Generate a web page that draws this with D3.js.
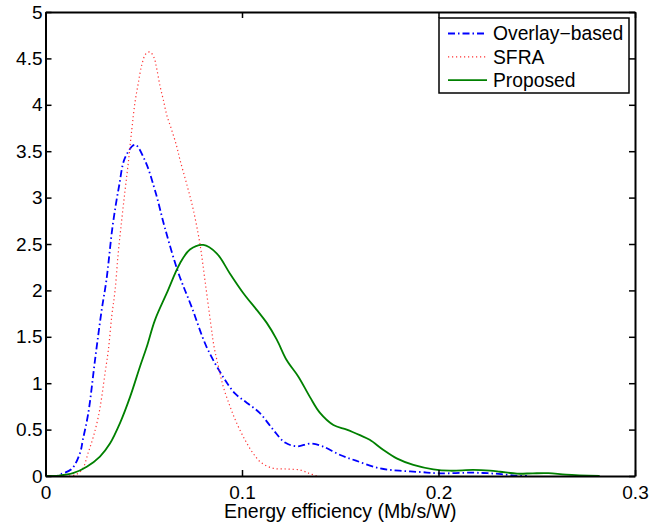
<!DOCTYPE html>
<html>
<head>
<meta charset="utf-8">
<title>Energy efficiency density</title>
<script src="https://d3js.org/d3.v7.min.js"></script>
<style>
  body { margin: 0; background: #fff; }
  svg text { font-family: "Liberation Sans", Arial, Helvetica, sans-serif; fill: #000; }
</style>
</head>
<body>
<div id="main"></div>
<script>
  // --- data ---
  var seriesNames = ["Overlay\u2212based", "SFRA", "Proposed"];

  var overlayX = [0.003, 0.006, 0.0077, 0.0133, 0.0176, 0.019, 0.0218, 0.0252, 0.0286, 0.031, 0.0342, 0.0374, 0.0405,
                  0.0455, 0.0506, 0.0557, 0.0608, 0.0676, 0.0744, 0.082, 0.0903, 0.0964, 0.1024, 0.109, 0.1158,
                  0.1219, 0.1278, 0.135, 0.141, 0.150, 0.158, 0.170, 0.180, 0.1906, 0.2008, 0.2176, 0.225, 0.232, 0.24, 0.245];
  var overlayY = [0, 0.002, 0.02, 0.075, 0.25, 0.39, 0.68, 1.25, 1.79, 2.11, 2.70, 3.12, 3.43,
                  3.57, 3.40, 3.08, 2.67, 2.19, 1.82, 1.39, 1.07, 0.89, 0.79, 0.68, 0.50,
                  0.36, 0.32, 0.35, 0.32, 0.226, 0.165, 0.083, 0.057, 0.043, 0.029, 0.036, 0.03, 0.02, 0.003, 0];

  var sfraX = [0.012, 0.016, 0.019, 0.0217, 0.0243, 0.0269, 0.0286, 0.0303, 0.032, 0.0337, 0.0354, 0.037, 0.0388,
               0.0405, 0.0421, 0.0439, 0.0455, 0.0472, 0.049, 0.0511, 0.0532, 0.0552, 0.0566, 0.0583, 0.06, 0.0617,
               0.0642, 0.0668, 0.0684, 0.0718, 0.0752, 0.0786, 0.0812, 0.0841, 0.0858, 0.088, 0.0905, 0.0939, 0.0973,
               0.1015, 0.1058, 0.11, 0.1159, 0.1227, 0.1295, 0.134, 0.138];
  var sfraY = [0, 0.02, 0.08, 0.25, 0.42, 0.64, 0.85, 1.11, 1.36, 1.72, 2.0, 2.40, 2.76,
               3.08, 3.37, 3.73, 4.02, 4.23, 4.43, 4.55, 4.57, 4.51, 4.39, 4.20, 4.05, 3.89,
               3.73, 3.55, 3.41, 3.15, 2.87, 2.50, 2.10, 1.64, 1.39, 1.18, 0.96, 0.75, 0.57,
               0.39, 0.24, 0.14, 0.083, 0.075, 0.065, 0.03, 0];

  var proposedX = [0, 0.007, 0.014, 0.021, 0.0277, 0.0328, 0.0379, 0.043, 0.0481, 0.0515, 0.0557, 0.0617, 0.0684,
                   0.0735, 0.0803, 0.0871, 0.0939, 0.1007, 0.1075, 0.1126, 0.1177, 0.1227, 0.1287, 0.1346, 0.1397,
                   0.1465, 0.1533, 0.16, 0.165, 0.172, 0.1787, 0.1872, 0.1974, 0.2059, 0.2177, 0.2262, 0.2313,
                   0.24, 0.248, 0.256, 0.265, 0.282];
  var proposedY = [0, 0.005, 0.03, 0.10, 0.21, 0.35, 0.57, 0.85, 1.18, 1.39, 1.68, 1.97, 2.29,
                   2.44, 2.49, 2.40, 2.18, 1.97, 1.79, 1.65, 1.47, 1.25, 1.07, 0.85, 0.68,
                   0.55, 0.50, 0.44, 0.39, 0.28, 0.19, 0.12, 0.072, 0.057, 0.065, 0.057, 0.046,
                   0.025, 0.029, 0.03, 0.015, 0];

  var xTicks = [0, 0.1, 0.2, 0.3];
  var yTicks = [0, 0.5, 1, 1.5, 2, 2.5, 3, 3.5, 4, 4.5, 5];
  var xLabel = "Energy efficiency (Mb/s/W)";

  // --- layout ---
  var width  = 650, height = 524;
  var margin = {left: 45.5, top: 12, right: 15, bottom: 48};
  var innerWidth  = width - margin.left - margin.right;
  var innerHeight = height - margin.top - margin.bottom;

  var xScale = d3.scaleLinear().domain([0, 0.3]).range([0, innerWidth]);
  var yScale = d3.scaleLinear().domain([0, 5]).range([innerHeight, 0]);

  var svg = d3.select("#main").append("svg")
      .attr("width", width)
      .attr("height", height);

  var g = svg.append("g")
      .attr("transform", "translate(" + margin.left + "," + margin.top + ")");

  var series = [
    {name: seriesNames[0], xs: overlayX,  ys: overlayY,  colour: "#0000ff", width: 1.8, dash: "7,3,1.5,3"},
    {name: seriesNames[1], xs: sfraX,     ys: sfraY,     colour: "#ff3030", width: 1.2, dash: "1.2,2.8"},
    {name: seriesNames[2], xs: proposedX, ys: proposedY, colour: "#008000", width: 1.8, dash: null}
  ];

  var line = d3.line()
      .x(d => xScale(d[0]))
      .y(d => yScale(d[1]))
      .curve(d3.curveCatmullRom.alpha(0.5));

  g.append("defs").append("clipPath").attr("id", "plotclip")
    .append("rect").attr("width", innerWidth).attr("height", innerHeight);

  g.selectAll("path.curve").data(series).enter().append("path")
      .attr("class", "curve")
      .attr("clip-path", "url(#plotclip)")
      .attr("d", s => line(d3.zip(s.xs, s.ys)))
      .attr("fill", "none")
      .attr("stroke", s => s.colour)
      .attr("stroke-width", s => s.width)
      .attr("stroke-dasharray", s => s.dash);

  // axes, MATLAB style: ticks inside, mirrored on top and right
  var fmt = d3.format("~g");
  var axBottom = g.append("g").attr("transform", "translate(0," + innerHeight + ")")
      .call(d3.axisBottom(xScale).tickValues(xTicks).tickFormat(fmt).tickSizeInner(-6).tickSizeOuter(0).tickPadding(10));
  var axTop = g.append("g")
      .call(d3.axisTop(xScale).tickValues(xTicks).tickFormat("").tickSizeInner(-6).tickSizeOuter(0));
  var axLeft = g.append("g")
      .call(d3.axisLeft(yScale).tickValues(yTicks).tickFormat(fmt).tickSizeInner(-6).tickSizeOuter(0).tickPadding(3));
  var axRight = g.append("g").attr("transform", "translate(" + innerWidth + ",0)")
      .call(d3.axisRight(yScale).tickValues(yTicks).tickFormat("").tickSizeInner(-6).tickSizeOuter(0));

  [axBottom, axTop, axLeft, axRight].forEach(function(ax) {
    ax.attr("font-family", null).attr("font-size", 19);
    ax.select(".domain").attr("stroke", "#000").attr("stroke-width", 2);
    ax.selectAll(".tick line").attr("stroke", "#000").attr("stroke-width", 1.5);
    ax.selectAll(".tick text").attr("fill", "#000");
  });

  g.append("text")
      .attr("x", innerWidth / 2)
      .attr("y", innerHeight + 42)
      .attr("text-anchor", "middle")
      .attr("font-size", 19.5)
      .text(xLabel);

  // legend
  var legend = svg.append("g").attr("transform", "translate(439,18)");
  legend.append("rect")
      .attr("width", 190).attr("height", 75)
      .attr("fill", "#fff").attr("stroke", "#000").attr("stroke-width", 1.5);
  var rows = legend.selectAll("g.row").data(series).enter().append("g")
      .attr("class", "row")
      .attr("transform", (s, i) => "translate(0," + (15.5 + i * 23.3) + ")");
  rows.append("line")
      .attr("x1", 9).attr("x2", 48)
      .attr("stroke", s => s.colour)
      .attr("stroke-width", s => s.width)
      .attr("stroke-dasharray", s => s.dash);
  rows.append("text")
      .attr("x", 54).attr("dy", "0.35em")
      .attr("font-size", 19.3)
      .text(s => s.name);
</script>
</body>
</html>
